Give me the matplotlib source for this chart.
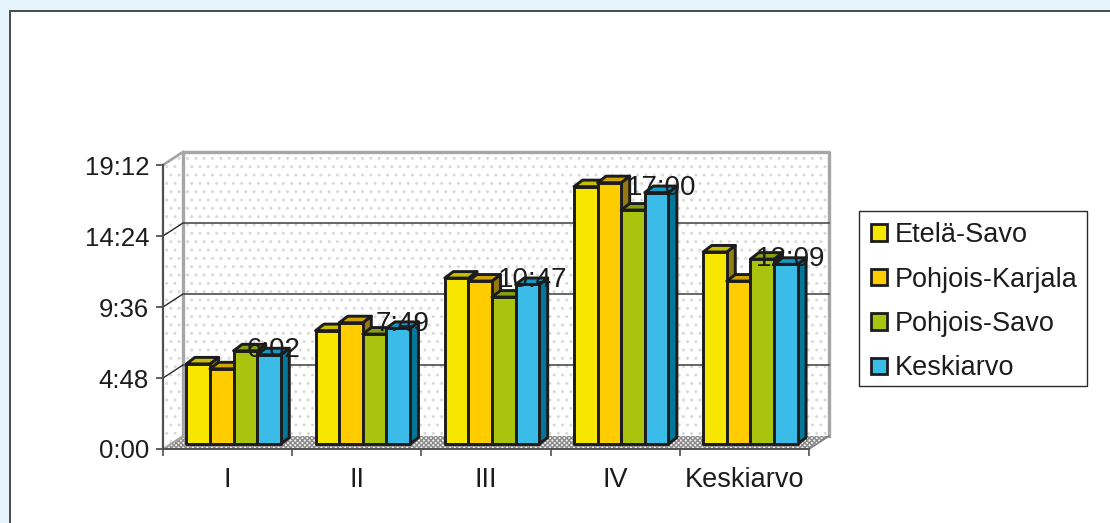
# Bar chart with a fake 3D look, times stored as h:mm
import matplotlib
matplotlib.use('Agg')
import matplotlib.pyplot as plt
from matplotlib.patches import Polygon, Rectangle

plt.rcParams['font.family'] = ['Liberation Sans', 'DejaVu Sans']
plt.rcParams['hatch.linewidth'] = 1.0

categories = ['I', 'II', 'III', 'IV', 'Keskiarvo']
etela_savo = ['5:25', '7:40', '11:13', '17:24', '12:59']
pohjois_karjala = ['5:05', '8:12', '11:01', '17:40', '11:01']
pohjois_savo = ['6:18', '7:26', '9:56', '15:49', '12:30']
keskiarvo = ['6:02', '7:49', '10:47', '17:00', '12:09']
tick_labels = ['0:00', '4:48', '9:36', '14:24', '19:12']

series_names = ['Etelä-Savo', 'Pohjois-Karjala', 'Pohjois-Savo', 'Keskiarvo']
series_values = [etela_savo, pohjois_karjala, pohjois_savo, keskiarvo]
front_colors = ['#F7E600', '#FFCC00', '#A8C40F', '#3BBCE8']
top_colors = ['#C9BE00', '#CFA400', '#86A012', '#1499C4']
side_colors = ['#8F8010', '#96780E', '#6F8A10', '#04769A']

W, H = 1110, 523
EDGE = '#1c1c1c'


def to_minutes(text):
    h, m = text.split(':')
    return int(h) * 60 + int(m)


fig = plt.figure(figsize=(W / 100, H / 100), dpi=100, facecolor='#E6F4FC')
fig.patches.append(Rectangle((10 / W, -0.01), 1, 1.01 - 11 / H, transform=fig.transFigure,
                             facecolor='white', edgecolor='#4a4a4a', linewidth=1.4, zorder=-1))

# axes is the front plane of the 3D box
ax = fig.add_axes([163 / W, 1 - 449 / H, 646 / W, 284 / H])
ax.set_xlim(0, 5)
ax.set_ylim(0, 1152)
ax.patch.set_alpha(0)
for s in ax.spines.values():
    s.set_visible(False)

PX = 5 / 646.0
PY = 1152 / 284.0
DX = 20 * PX   # depth of box
DY = 13 * PY


def poly(points, **kw):
    p = Polygon(points, closed=True, clip_on=False, **kw)
    ax.add_patch(p)
    return p


# walls and floor
poly([(DX, DY), (DX, 1152 + DY), (5 + DX, 1152 + DY), (5 + DX, DY)], facecolor='white',
     edgecolor='#DADADA', hatch='..', linewidth=0, zorder=1)
poly([(0, 0), (0, 1152), (DX, 1152 + DY), (DX, DY)], facecolor='white',
     edgecolor='#DADADA', hatch='..', linewidth=0, zorder=1)
poly([(0, 0), (DX, DY), (5 + DX, DY), (5, 0)], facecolor='#F2F2F2',
     edgecolor='#8A8A8A', hatch='xxxxxxx', linewidth=0, zorder=1)
ax.plot([DX, DX, 5 + DX, 5 + DX], [DY, 1152 + DY, 1152 + DY, DY], color='#A6A6A6', lw=2.4,
        clip_on=False, zorder=2)
ax.plot([0, DX], [1152, 1152 + DY], color='#A6A6A6', lw=2.0, clip_on=False, zorder=2)
ax.plot([0, DX], [0, DY], color='#A6A6A6', lw=1.5, clip_on=False, zorder=2)
ax.plot([5, 5 + DX], [0, DY], color='#808080', lw=1.2, clip_on=False, zorder=2)

# gridlines on the back wall with slanted bit on the side wall
for v in [to_minutes(t) for t in tick_labels[1:-1]]:
    ax.plot([0, DX, 5 + DX], [v, v + DY, v + DY], color='#2a2a2a', lw=1.0, clip_on=False, zorder=2)

ax.plot([0, 0], [0, 1152], color='#505050', lw=1.6, clip_on=False, zorder=3)
ax.plot([0, 5], [0, 0], color='#505050', lw=1.4, clip_on=False, zorder=3)

ax.set_yticks([to_minutes(t) for t in tick_labels])
ax.set_yticklabels(tick_labels, fontsize=18.5, color='#1c1c1c')
ax.set_xticks(range(6))
ax.set_xticklabels([])
ax.set_xticks([i + 0.5 for i in range(5)], minor=True)
ax.set_xticklabels(categories, minor=True, fontsize=19.5, color='#1c1c1c')
ax.tick_params(axis='y', length=5, width=1.3, color='#505050', pad=5)
ax.tick_params(axis='x', which='major', length=5, width=1.2, color='#505050')
ax.tick_params(axis='x', which='minor', length=0, pad=13)

# bars
BAR_W = 23.6 * PX
SHIFT_X = 6 * PX
BASE = 5 * PY
DEPTH_X = 8.5 * PX
DEPTH_Y = 6.5 * PY

for c in range(len(categories)):
    group_left = c + 0.5 - 2 * BAR_W + SHIFT_X
    for s in range(4):
        x0 = group_left + s * BAR_W
        x1 = x0 + BAR_W
        y1 = BASE + to_minutes(series_values[s][c])
        lw = 2.1
        poly([(x1, BASE), (x1, y1), (x1 + DEPTH_X, y1 + DEPTH_Y), (x1 + DEPTH_X, BASE + DEPTH_Y)],
             facecolor=side_colors[s], edgecolor=EDGE, linewidth=lw, joinstyle='round', zorder=5 + s)
        poly([(x0, y1), (x0 + DEPTH_X, y1 + DEPTH_Y), (x1 + DEPTH_X, y1 + DEPTH_Y), (x1, y1)],
             facecolor=top_colors[s], edgecolor=EDGE, linewidth=lw, joinstyle='round', zorder=5 + s)
        poly([(x0, BASE), (x0, y1), (x1, y1), (x1, BASE)],
             facecolor=front_colors[s], edgecolor=EDGE, linewidth=lw, joinstyle='round', zorder=5 + s)

# data labels only on the average series
for c in range(len(categories)):
    x = c + 0.5 - 2 * BAR_W + SHIFT_X + 3.5 * BAR_W
    ax.annotate(keskiarvo[c], (x, BASE + to_minutes(keskiarvo[c])), xytext=(3.5, 3.5),
                textcoords='offset points', ha='center', va='center', fontsize=20,
                color='#1c1c1c', zorder=20, annotation_clip=False)

# legend, box drawn by hand so it can sit tight round the rows
fig.patches.append(Rectangle((859 / W, 1 - 386 / H), 228 / W, 175 / H, transform=fig.transFigure,
                             facecolor='white', edgecolor='#2a2a2a', linewidth=1.0, zorder=-0.5))
handles = [Rectangle((0, 0), 1, 1, facecolor=front_colors[i], edgecolor=EDGE, linewidth=2.0)
           for i in range(4)]
leg = fig.legend(handles, series_names, loc='upper left',
                 bbox_to_anchor=(859 / W, 1 - 210 / H), borderaxespad=0, fontsize=19.5,
                 frameon=False, handlelength=0.57, handleheight=0.57, handletextpad=0.3,
                 labelspacing=0.68, borderpad=0.45, labelcolor='#1c1c1c')

fig.savefig('out.png', dpi=100, facecolor=fig.get_facecolor())
